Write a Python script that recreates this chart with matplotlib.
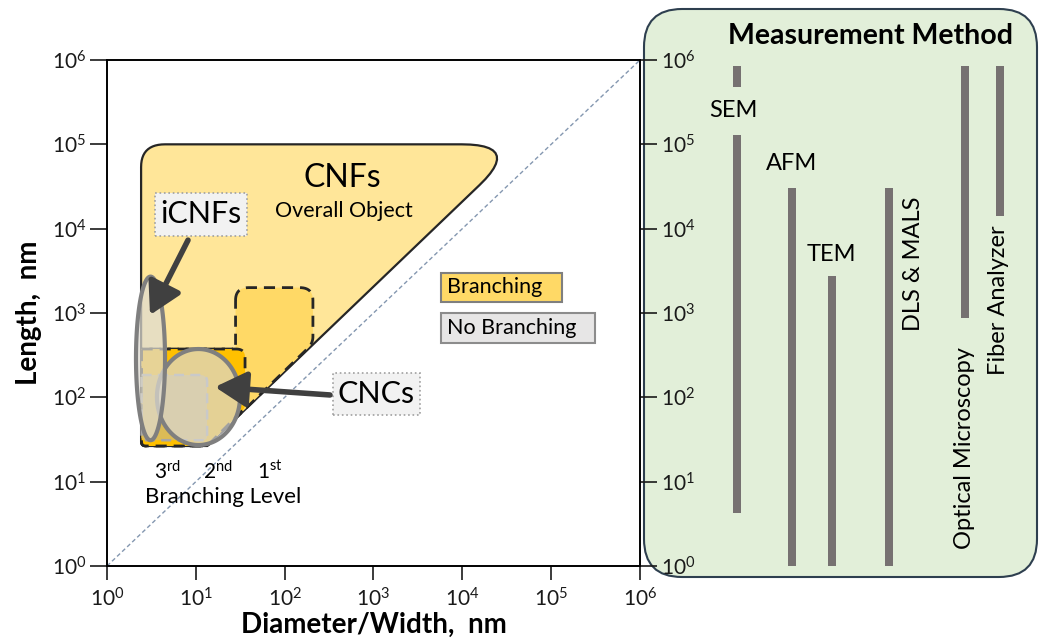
# CNF / CNC size map (length vs. diameter) with measurement-method ranges
import numpy as np
import matplotlib
matplotlib.use("Agg")
import matplotlib.pyplot as plt
from matplotlib.patches import Polygon, Rectangle, FancyBboxPatch
from matplotlib.ticker import NullLocator, LogLocator

plt.rcParams['font.family'] = ['Lato', 'DejaVu Sans']
plt.rcParams['mathtext.fontset'] = 'custom'
plt.rcParams['mathtext.rm'] = 'Lato'
plt.rcParams['mathtext.it'] = 'Lato:italic'
plt.rcParams['mathtext.bf'] = 'Lato:bold'

# ---- data (nm) ----
diag = [1e0, 1e6]                      # L = D reference line

# CNFs overall object region (corners)
cnf_d = [2.42, 4.7e4, 13.4, 2.42]
cnf_l = [1.0e5, 1.0e5, 26.5, 26.5]
# branching levels
first_d = [28, 208, 208, 13.4, 2.45, 2.45, 28]
first_l = [2000, 2000, 437, 26.5, 26.5, 374, 374]
second_d = [2.45, 35.8, 35.8, 13.4, 2.45]
second_l = [374, 374, 75, 26.5, 26.5]
third_d = [2.45, 13.4, 13.4, 2.45]
third_l = [184, 184, 31, 31]
# iCNFs and CNCs ranges
icnf_d = [2.12, 4.5]
icnf_l = [31, 2700]
cnc_d = [3.65, 31.4]
cnc_l = [27.2, 374]

# measurement methods (length ranges, nm)
method_names = ['SEM', 'AFM', 'TEM', 'DLS & MALS', 'Optical Microscopy', 'Fiber Analyzer']
method_low = [4.3, 1.0, 1.0, 1.0, 870, 1.4e4]
method_high = [8.5e5, 3.0e4, 2.75e3, 3.0e4, 8.5e5, 8.5e5]
sem_gap = [1.3e5, 4.8e5]

bar_x = [0.238, 0.377, 0.478, 0.623, 0.815, 0.904]
bar_color = '#767171'


def rounded(d, l, t, n=14):
    X = np.log10(d)
    Y = np.log10(l)
    pts = []
    for i in range(len(X)):
        p = np.array([X[i], Y[i]])
        if t[i] == 0:
            pts.append(p)
            continue
        a = np.array([X[i - 1], Y[i - 1]])
        b = np.array([X[(i + 1) % len(X)], Y[(i + 1) % len(X)]])
        u = (a - p) / np.linalg.norm(a - p)
        v = (b - p) / np.linalg.norm(b - p)
        p0, p1 = p + u * t[i], p + v * t[i]
        s = np.linspace(0, 1, n)[:, None]
        pts.extend((1 - s) ** 2 * p0 + 2 * (1 - s) * s * p + s ** 2 * p1)
    pts = np.array(pts)
    return np.column_stack([10 ** pts[:, 0], 10 ** pts[:, 1]])


def log_ellipse(d, l, n=200):
    cx, cy = np.mean(np.log10(d)), np.mean(np.log10(l))
    a, b = np.diff(np.log10(d))[0] / 2, np.diff(np.log10(l))[0] / 2
    th = np.linspace(0, 2 * np.pi, n)
    return np.column_stack([10 ** (cx + a * np.cos(th)), 10 ** (cy + b * np.sin(th))])


W, H = 1041, 644
fig = plt.figure(figsize=(W / 100, H / 100), dpi=100)


def px_axes(x0, y0, x1, y1):
    return fig.add_axes([x0 / W, 1 - y1 / H, (x1 - x0) / W, (y1 - y0) / H])


ax = px_axes(107, 60, 640, 566)
ax2 = px_axes(643, 8, 1038, 578)
ax.set_zorder(2)
ax2.set_zorder(1)

# ---- main chart ----
ax.set_xscale('log')
ax.set_yscale('log')
ax.set_xlim(1, 1e6)
ax.set_ylim(1, 1e6)
for a in (ax.xaxis, ax.yaxis):
    a.set_major_locator(LogLocator(base=10, numticks=10))
    a.set_minor_locator(NullLocator())
for s in ax.spines.values():
    s.set_linewidth(1.4)
ax.tick_params(axis='both', direction='out', width=1.2, labelsize=15, colors='#1a1a1a')
ax.tick_params(axis='y', length=12, pad=3, right=True, labelright=True)
ax.tick_params(axis='x', length=10, pad=5)
ax.set_xlabel('Diameter/Width,  nm', fontsize=20, fontweight='bold')
ax.xaxis.set_label_coords(0.5, -0.091)
ax.set_ylabel('Length,  nm', fontsize=20, fontweight='bold')
ax.yaxis.set_label_coords(-0.122, 0.5)

ax.plot(diag, diag, color='#8497b0', lw=1, ls=(0, (3, 2)), zorder=1)

ax.add_patch(Polygon(rounded(cnf_d, cnf_l, [0.27, 0.68, 0, 0.05]), closed=True,
                     fc='#ffe699', ec='#262626', lw=1.6, zorder=2))
ax.add_patch(Polygon(rounded(first_d, first_l, [0.15, 0.15, 0.08, 0, 0.05, 0, 0]), closed=True,
                     fc='#ffd966', ec='#262626', lw=2, ls=(0, (4, 2.5)), zorder=3))
ax.add_patch(Polygon(rounded(second_d, second_l, [0, 0.1, 0.05, 0, 0.05]), closed=True,
                     fc='#ffc000', ec='#262626', lw=2, ls=(0, (4, 2.5)), zorder=4))
ax.add_patch(Polygon(rounded(third_d, third_l, [0, 0.08, 0.05, 0.05]), closed=True,
                     fc=(0.75, 0.72, 0.62, 0.55), ec='#a6a6a6', lw=1.8, ls=(0, (4, 2.5)), zorder=5))
ax.add_patch(Polygon(log_ellipse(cnc_d, cnc_l), closed=True,
                     fc=(0.85, 0.85, 0.85, 0.69), ec='#7f7f7f', lw=3, zorder=6))
ax.add_patch(Polygon(log_ellipse(icnf_d, icnf_l), closed=True,
                     fc=(0.87, 0.86, 0.82, 0.72), ec='#7f7f7f', lw=3, zorder=7))

T = ax.transAxes
ax.text(0.441, 0.767, 'CNFs', transform=T, ha='center', va='center', fontsize=23, zorder=10)
ax.text(0.445, 0.7016, 'Overall Object', transform=T, ha='center', va='center', fontsize=15.5, zorder=10)

ax.add_patch(Rectangle((0.0901, 0.6522), 0.1726, 0.085, transform=T, fc='#f2f2f2',
                       ec='#a0a0a0', lw=1.2, ls=':', zorder=9))
ax.text(0.1764, 0.6947, 'iCNFs', transform=T, ha='center', va='center', fontsize=22, zorder=10)
ax.add_patch(Rectangle((0.424, 0.2984), 0.1632, 0.083, transform=T, fc='#f2f2f2',
                       ec='#a0a0a0', lw=1.2, ls=':', zorder=9))
ax.text(0.5056, 0.340, 'CNCs', transform=T, ha='center', va='center', fontsize=22, zorder=10)

arrow = dict(arrowstyle='-|>,head_length=0.8,head_width=0.45', lw=4, color='#404040',
             mutation_scale=24, shrinkA=0, shrinkB=0)
ax.annotate('', xy=(0.0807, 0.496), xytext=(0.152, 0.644), xycoords=T, textcoords=T,
            arrowprops=arrow, zorder=11)
ax.annotate('', xy=(0.2026, 0.3538), xytext=(0.4184, 0.338), xycoords=T, textcoords=T,
            arrowprops=arrow, zorder=11)

ax.add_patch(Rectangle((0.6266, 0.5217), 0.227, 0.0573, transform=T, fc='#ffd966',
                       ec='#7f7f7f', lw=1.5, zorder=9))
ax.text(0.638, 0.5504, 'Branching', transform=T, ha='left', va='center', fontsize=15.5, zorder=10)
ax.add_patch(Rectangle((0.6266, 0.4407), 0.289, 0.0593, transform=T, fc='#e7e6e6',
                       ec='#8c8c8c', lw=1.5, zorder=9))
ax.text(0.638, 0.4704, 'No Branching', transform=T, ha='left', va='center', fontsize=15.5, zorder=10)

for x, lab in zip([0.1126, 0.2083, 0.3058], ['3$^{\\mathrm{rd}}$', '2$^{\\mathrm{nd}}$', '1$^{\\mathrm{st}}$']):
    ax.text(x, 0.1858, lab, transform=T, ha='center', va='center', fontsize=15, zorder=10)
ax.text(0.2176, 0.1364, 'Branching Level', transform=T, ha='center', va='center', fontsize=16, zorder=10)

# ---- measurement-method panel ----
dec = (566 - 60) / 6
ax2.set_yscale('log')
ax2.set_xlim(0, 1)
ax2.set_ylim(10 ** ((566 - 578) / dec), 10 ** (6 + (60 - 8) / dec))
ax2.axis('off')
ax2.add_patch(FancyBboxPatch((6.44, 0.67), 3.93, 5.68, boxstyle='round,pad=0,rounding_size=0.38',
                             transform=fig.dpi_scale_trans, fc='#e2efd9', ec='#2e3f4f', lw=1.5,
                             clip_on=False, zorder=0))

for i, name in enumerate(method_names):
    if name == 'SEM':
        segs = [(method_low[i], sem_gap[0]), (sem_gap[1], method_high[i])]
    else:
        segs = [(method_low[i], method_high[i])]
    for lo, hi in segs:
        ax2.bar(bar_x[i], hi - lo, bottom=lo, width=0.02, color=bar_color, zorder=2)

ax2.text(0.577, 1.9e6, 'Measurement Method', ha='center', va='center', fontsize=20.5, fontweight='bold')
ax2.text(bar_x[0] - 0.008, 2.5e5, 'SEM', ha='center', va='center', fontsize=17)
ax2.text(bar_x[1], 6.0e4, 'AFM', ha='center', va='center', fontsize=17)
ax2.text(bar_x[2], 4.9e3, 'TEM', ha='center', va='center', fontsize=17)
ax2.text(0.686, 3.8e3, 'DLS & MALS', ha='center', va='center', fontsize=17, rotation=90)
ax2.text(0.813, 25, 'Optical Microscopy', ha='center', va='center', fontsize=17, rotation=90)
ax2.text(0.901, 1.4e3, 'Fiber Analyzer', ha='center', va='center', fontsize=17, rotation=90)

fig.savefig('out.png', dpi=100)
